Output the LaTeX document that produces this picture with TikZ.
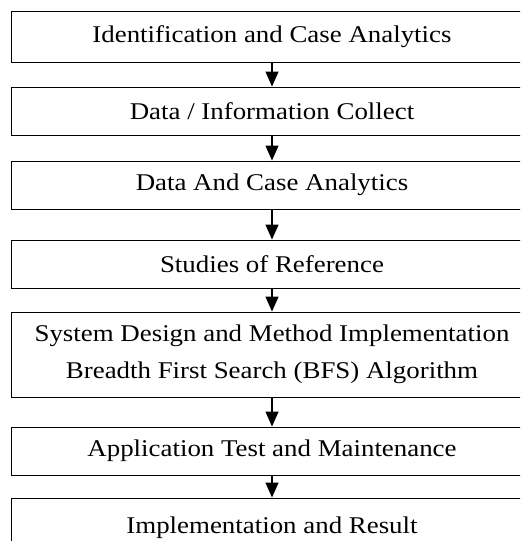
\documentclass[tikz,border=0pt]{standalone}
\usepackage{fontspec}
\setmainfont{Liberation Serif}
\usetikzlibrary{arrows.meta}
\newcommand{\hs}[1]{\scalebox{1.12}[1]{#1}}
\tikzset{
  stepbox/.style={draw=black, line width=0.9pt, minimum width=522pt, inner sep=0pt, align=center,
    font=\fontsize{24}{37}\selectfont},
  flow/.style={line width=1.3pt, -{Triangle[width=13pt,length=15pt]}}
}
\begin{document}
\begin{tikzpicture}[x=1pt,y=-1pt]
\useasboundingbox (0,0) rectangle (520,541);
\clip (0,0) rectangle (520,541);
\node[stepbox, minimum height=51pt] (b1) at (272,36.5) {\hs{Identification and Case Analytics}};
\node[stepbox, minimum height=48pt] (b2) at (272,111) {\hs{Data / Information Collect}};
\node[stepbox, minimum height=48pt] (b3) at (272,185) {\hs{Data And Case Analytics}};
\node[stepbox, minimum height=48pt] (b4) at (272,264) {\hs{Studies of Reference}};
\node[stepbox, minimum height=85pt] (b5) at (272,354.5) {\hs{System Design and Method Implementation}\\\hs{Breadth First Search (BFS) Algorithm}};
\node[stepbox, minimum height=48pt] (b6) at (272,451) {\hs{Application Test and Maintenance}};
\node[stepbox, minimum height=60pt] (b7) at (272,528) {\hs{Implementation and Result}};
\draw[flow] (b1.south) -- (b2.north);
\draw[flow] (b2.south) -- (b3.north);
\draw[flow] (b3.south) -- (b4.north);
\draw[flow] (b4.south) -- (b5.north);
\draw[flow] (b5.south) -- (b6.north);
\draw[flow] (b6.south) -- (b7.north);
\end{tikzpicture}
\end{document}
